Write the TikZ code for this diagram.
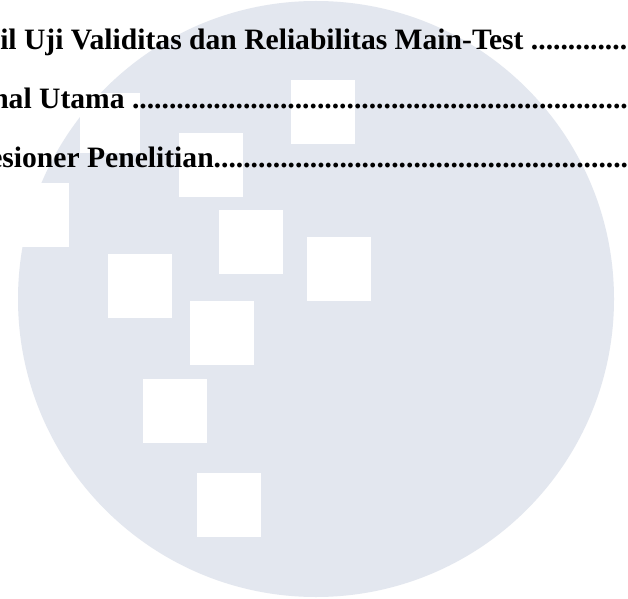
\documentclass[tikz,border=0pt]{standalone}
\usepackage{fontspec}
\setmainfont{Liberation Serif}
\definecolor{wm}{HTML}{E3E7EF}
\tikzset{x=0.75pt,y=-0.75pt,
  line/.style={inner sep=0pt,anchor=base west,font=\fontsize{22.2pt}{26pt}\selectfont\bfseries}}
\newcommand{\wsq}[2]{\fill[white] (#1,#2) rectangle ++(64,64);}
\begin{document}
\begin{tikzpicture}
\useasboundingbox (0,0) rectangle (628,599);
\fill[white] (0,0) rectangle (628,599);
\fill[wm] (316,299) circle[radius=298];
\wsq{291}{80}\wsq{179}{133}\wsq{219}{210}\wsq{307}{237}\wsq{108}{254}\wsq{190}{301}\wsq{143}{379}\wsq{197}{473}
\fill[white] (80,93) rectangle (140,153);
\wsq{5}{183}
\node[line] (a) at (0,50) {il Uji Validitas dan Reliabilitas Main-Test .............};
\node[line] (b) at (-8,109) {nal Utama ...................................................................};
\node[line] (c) at (-11,167) {esioner Penelitian.........................................................};
\end{tikzpicture}
\end{document}
